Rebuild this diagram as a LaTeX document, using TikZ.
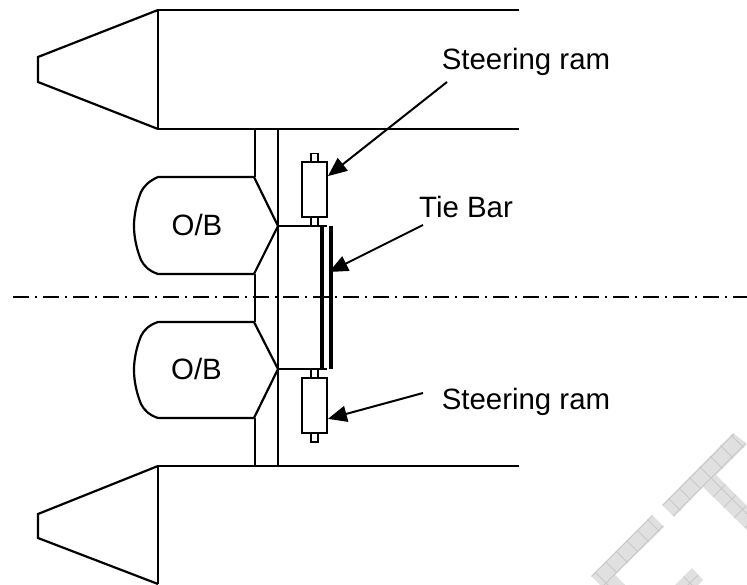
\documentclass[tikz,border=0pt]{standalone}
\usepackage{fontspec}
\setmainfont{Liberation Sans}
\usetikzlibrary{arrows.meta}
\definecolor{markfill}{HTML}{E0E0E0}
\definecolor{markline}{HTML}{C8C8C8}
\tikzset{
    hullline/.style={
        draw=black,
        line width=2.2pt,
        line join=miter
    },
    ramnode/.style={
        rectangle,
        draw=black,
        line width=1.8pt,
        minimum width=25pt,
        minimum height=55pt,
        inner sep=0
    },
    ramstub/.style={
        draw=black,
        line width=1.8pt
    },
    tiebar/.style={
        draw=black,
        line width=4.4pt
    },
    labeltext/.style={
        inner sep=0,
        font=\fontsize{29.4}{31}\selectfont
    },
    pointer/.style={
        draw=black,
        line width=2pt,
        -{Triangle[length=19pt,width=16pt]}
    },
    centreline/.style={
        draw=black,
        line width=2pt,
        dash pattern=on 16pt off 5.5pt on 2pt off 6.5pt
    }
}

\begin{document}
\begin{tikzpicture}[x=1pt,y=-1pt]
    \useasboundingbox (0,0) rectangle (747,585);
    % watermark
    \begin{scope}
        \clip (733,433) -- (747,444) -- (716,475) -- (747,506) -- (747,530) -- (703,487) -- (674,517) -- (662,505) -- cycle
              (652,515) -- (664,527) -- (615,575) -- (625,585) -- (600,585) -- (591,576) -- cycle
              (692,568) -- (703,580) -- (698,585) -- (675,585) -- cycle;
        \fill[markfill] (580,420) rectangle (747,585);
        \foreach \d in {0,21,...,420} {
            \draw[markline,line width=0.8pt] (580+\d,420) -- +(-200,200);
            \draw[markline,line width=0.8pt] (380+\d,420) -- +(200,200);
        }
    \end{scope}
    % hulls
    \draw[hullline] (519,10) -- (158,10) -- (158,129) -- (519,129);
    \draw[hullline] (158,10) -- (38,57) -- (38,82) -- (158,129);
    \draw[hullline] (519,466) -- (158,466) -- (158,584);
    \draw[hullline] (158,466) -- (38,514) -- (38,538) -- (158,584);
    % beams
    \draw[hullline] (255,129) -- (255,177);
    \draw[hullline] (255,274) -- (255,322);
    \draw[hullline] (255,418) -- (255,466);
    \draw[hullline] (278,129) -- (278,466);
    % outboards
    \draw[hullline] (254,177) -- (278,226) -- (254,274) -- (158,274)
        .. controls (149,271) and (144,266) .. (141,260)
        .. controls (137,250) and (134,238) .. (134,226)
        .. controls (134,214) and (137,202) .. (141,192)
        .. controls (144,186) and (149,181) .. (158,177) -- cycle;
    \draw[hullline] (254,322) -- (278,369) -- (254,418) -- (158,418)
        .. controls (149,415) and (144,410) .. (141,404)
        .. controls (137,394) and (134,382) .. (134,370)
        .. controls (134,358) and (137,346) .. (141,336)
        .. controls (144,330) and (149,325) .. (158,322) -- cycle;
    \node[labeltext] (obup) at (197,225) {O/B};
    \node[labeltext] (oblow) at (196.5,369) {O/B};
    % tie bar
    \draw[hullline] (278,226) -- (327,226);
    \draw[hullline] (278,369) -- (327,369);
    \draw[tiebar] (322,226) -- (322,369);
    \draw[tiebar] (331,226) -- (331,369);
    % rams
    \node[ramnode] (ramup) at (314.5,189.5) {};
    \draw[ramstub] (311,162) -- (311,153.5) -- (318,153.5) -- (318,162);
    \draw[ramstub] (311,217) -- (311,226);
    \draw[ramstub] (318,217) -- (318,226);
    \node[ramnode] (ramlow) at (314.5,405.5) {};
    \draw[ramstub] (311,369) -- (311,378);
    \draw[ramstub] (318,369) -- (318,378);
    \draw[ramstub] (311,433) -- (311,442) -- (318,442) -- (318,433);
    % centre line
    \coordinate (clstart) at (13,297.5);
    \coordinate (clend) at (747,297.5);
    \draw[centreline] (clstart) -- (clend);
    % labels
    \node[labeltext] (steerup) at (526,62) {Steering ram};
    \node[labeltext] (tielabel) at (466,207) {Tie Bar};
    \node[labeltext] (steerlow) at (526,402) {Steering ram};
    \coordinate (steerupend) at (447,82);
    \coordinate (tieend) at (423,225);
    \coordinate (tietip) at (329,272);
    \coordinate (steerlowend) at (423,393);
    \draw[pointer] (steerupend) -- (ramup.45);
    \draw[pointer] (tieend) -- (tietip);
    \draw[pointer] (steerlowend) -- (ramlow.-45);
\end{tikzpicture}
\end{document}
